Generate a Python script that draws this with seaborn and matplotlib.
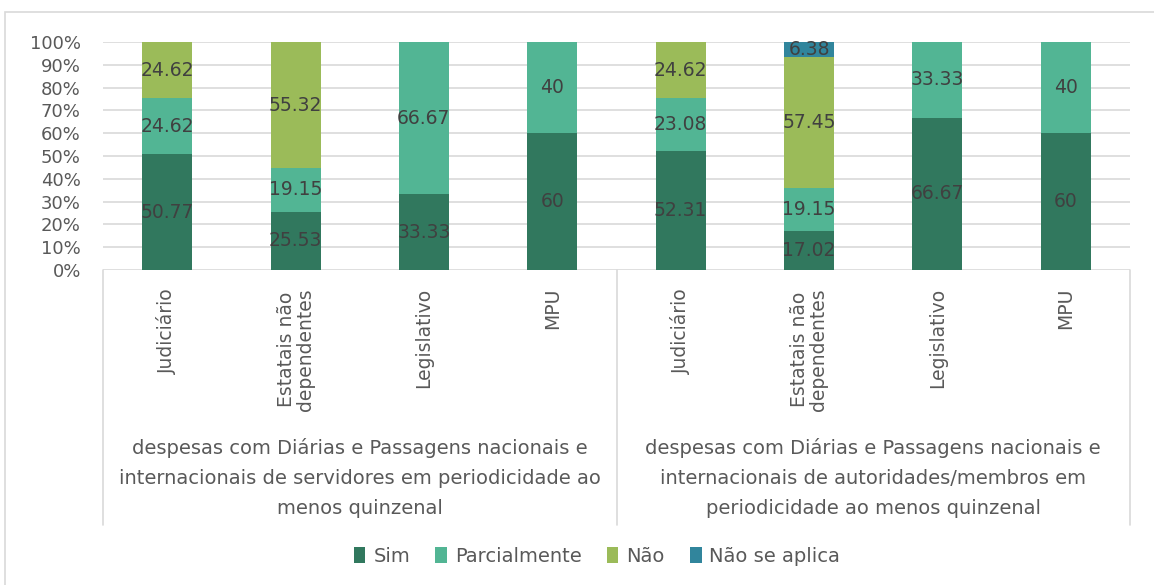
import numpy as np
import pandas as pd
import seaborn as sns
import matplotlib.pyplot as plt
from matplotlib.patches import Rectangle, Patch
from matplotlib.lines import Line2D
from matplotlib.transforms import blended_transform_factory

categories = ["Judiciário", "Estatais não\ndependentes", "Legislativo", "MPU"]
groups = [
    "despesas com Diárias e Passagens nacionais e\ninternacionais de servidores em periodicidade ao\nmenos quinzenal",
    "despesas com Diárias e Passagens nacionais e\ninternacionais de autoridades/membros em\nperiodicidade ao menos quinzenal",
]
series = ["Sim", "Parcialmente", "Não", "Não se aplica"]
sim = [50.77, 25.53, 33.33, 60, 52.31, 17.02, 66.67, 60]
parcialmente = [24.62, 19.15, 66.67, 40, 23.08, 19.15, 33.33, 40]
nao = [24.62, 55.32, 0, 0, 24.62, 57.45, 0, 0]
nao_se_aplica = [0, 0, 0, 0, 0, 6.38, 0, 0]
yticks = [0, 10, 20, 30, 40, 50, 60, 70, 80, 90, 100]

colors = ["#31785E", "#52B594", "#9BBB59", "#31859C"]
label_color = "#404040"
text_color = "#595959"
grid_color = "#D9D9D9"

sns.set_style("white")
plt.rcParams['font.family'] = ['DejaVu Sans']

vals = np.array([sim, parcialmente, nao, nao_se_aplica], dtype=float)
totals = vals.sum(axis=0)
pct = vals / totals * 100
cum = np.cumsum(pct, axis=0)

slots = [f"s{i}" for i in range(len(sim))]
df = pd.DataFrame({"slot": slots})
for k, s in enumerate(series):
    df[s] = cum[k]

fig = plt.figure(figsize=(11.54, 5.85), dpi=100)
W, H = 1154, 585
ax = fig.add_axes([103 / W, (H - 270) / H, (1130 - 103) / W, (270 - 42) / H])

for k in range(len(series) - 1, -1, -1):
    sns.barplot(data=df, x="slot", y=series[k], order=slots, color=colors[k],
                saturation=1, width=0.39, errorbar=None, ax=ax, zorder=2,
                linewidth=0, edgecolor="none")

for i in range(len(slots)):
    bottom = 0.0
    for k in range(len(series)):
        v = vals[k, i]
        h = pct[k, i]
        if v > 0:
            ax.text(i, bottom + h / 2, f"{v:g}", ha="center", va="center",
                    color=label_color, fontsize=13.5, zorder=3)
        bottom += h

ax.set_ylim(0, 100)
ax.set_xlim(-0.5, len(slots) - 0.5)
ax.set_yticks(yticks)
ax.set_yticklabels([f"{t}%" for t in yticks], fontsize=13, color=text_color)
ax.set_xticks(range(len(slots)))
ax.set_xticklabels(categories * 2, rotation=90, fontsize=13.5, color=text_color,
                   linespacing=1.0)
ax.tick_params(axis="y", length=0, pad=16)
ax.tick_params(axis="x", length=0, pad=13)
ax.set_xlabel("")
ax.set_ylabel("")
ax.yaxis.grid(True, color=grid_color, linewidth=1.2, zorder=0)
ax.set_axisbelow(True)
for sp in ax.spines.values():
    sp.set_visible(False)

# group labels and dividers
tr = blended_transform_factory(ax.transData, fig.transFigure)
for g, lab in enumerate(groups):
    ax.text(1.5 + 4 * g, (H - 478) / H, lab, transform=tr, ha="center", va="center",
            multialignment="center", fontsize=14, color=text_color, linespacing=1.7)
tr2 = blended_transform_factory(ax.transAxes, fig.transFigure)
for xa in [0, 0.5, 1]:
    fig.add_artist(Line2D([xa, xa], [(H - 270) / H, (H - 525) / H], transform=tr2,
                          color=grid_color, linewidth=1.2))

handles = [Patch(facecolor=c, edgecolor="none") for c in colors]
fig.legend(handles, series, loc="center", bbox_to_anchor=(597 / W, (H - 556) / H),
           ncol=4, frameon=False, fontsize=14, labelcolor=text_color,
           handlelength=0.6, handleheight=0.9, handletextpad=0.4, columnspacing=1.3)

fig.add_artist(Rectangle((5 / W, -0.02), 1.1, (H - 12) / H + 0.02, transform=fig.transFigure,
                         fill=False, edgecolor=grid_color, linewidth=1.2))

fig.savefig("out.png", dpi=100)
